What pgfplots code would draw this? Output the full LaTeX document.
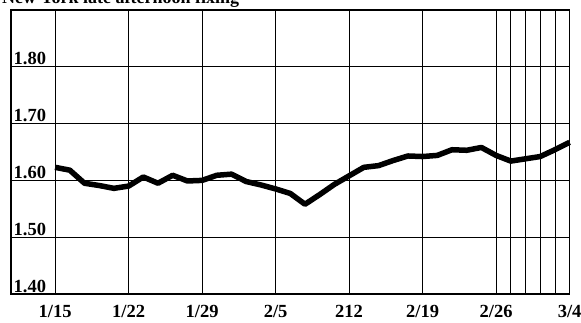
\documentclass[border=0pt]{standalone}
\usepackage{fontspec}
\setmainfont{Liberation Serif}
\usepackage{pgfplots}
\pgfplotsset{compat=1.18}
\begin{document}
\begin{tikzpicture}
\begin{axis}[
  at={(0,0)}, anchor=south west,
  scale only axis,
  width=558.6pt, height=284pt,
  xmin=-3, xmax=35,
  ymin=1.40, ymax=1.90,
  xtick={0,5,10,15,20,25,30,35},
  xticklabels={1/15,1/22,1/29,2/5,212,2/19,2/26,3/4},
  extra x ticks={31,32,33,34},
  extra x tick labels={},
  extra x tick style={grid=major},
  ytick={1.4,1.5,1.6,1.7,1.8},
  yticklabels={1.40,1.50,1.60,1.70,1.80},
  grid=major,
  major grid style={black, line width=0.8pt},
  major tick length=0pt,
  axis line style={black, line width=1.6pt},
  every tick label/.append style={font=\fontsize{18.5}{20}\selectfont\bfseries},
  yticklabel style={anchor=south west, inner sep=1.5pt, xshift=1pt},
  xticklabel style={anchor=north, inner sep=0pt, yshift=-11pt},
  clip=false,
]
\addplot[black, line width=5.5pt, line join=round] coordinates {
(0,1.623) (1,1.618) (2,1.595) (3,1.591) (4,1.586) (5,1.590)
(6,1.606) (7,1.595) (8,1.609) (9,1.599) (10,1.600) (11,1.609)
(12,1.611) (13,1.598) (14,1.592) (15,1.585) (16,1.577) (17,1.558)
(18,1.575) (19,1.593) (20,1.608) (21,1.623) (22,1.626) (23,1.635)
(24,1.643) (25,1.642) (26,1.644) (27,1.654) (28,1.653) (29,1.658)
(30,1.644) (31,1.634) (32,1.638) (33,1.642) (34,1.654) (35,1.667)
};
\end{axis}
\node[anchor=base west, inner sep=0pt, font=\fontsize{18}{20}\selectfont\bfseries] at (-9pt,290pt) {New York late afternoon fixing};
\pgfresetboundingbox
\useasboundingbox (-11pt,-29pt) rectangle (570pt,294pt);
\end{tikzpicture}
\end{document}
